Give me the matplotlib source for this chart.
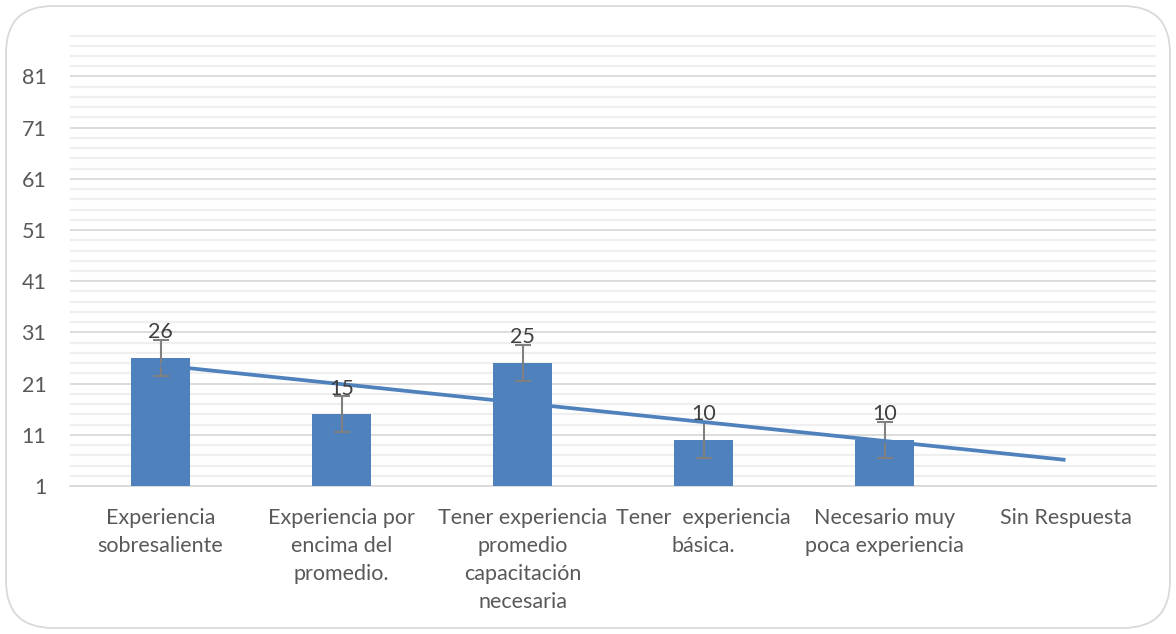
import numpy as np
import matplotlib
matplotlib.use("Agg")
import matplotlib.pyplot as plt
from matplotlib.patches import FancyBboxPatch
from matplotlib.ticker import FixedLocator

categories = [
    "Experiencia\nsobresaliente",
    "Experiencia por\nencima del\npromedio.",
    "Tener experiencia\npromedio\ncapacitación\nnecesaria",
    "Tener  experiencia\nbásica.",
    "Necesario muy\npoca experiencia",
    "Sin Respuesta",
]
values = [26, 15, 25, 10, 10, None]  # "Sin Respuesta" has no answer count
y_ticks = [1, 11, 21, 31, 41, 51, 61, 71, 81]

plt.rcParams["font.family"] = ["Lato", "DejaVu Sans"]

BAR = "#4F81BD"
TEXT = "#595959"
FS = 15.5

fig = plt.figure(figsize=(11.76, 6.34), dpi=100)
ax = fig.add_axes([70 / 1176, 1 - 486 / 634, 1086 / 1176, (486 - 34) / 634])

x = np.arange(len(categories))
present = [i for i, v in enumerate(values) if v is not None]
vals = np.array([values[i] for i in present], dtype=float)
xp = np.array(present, dtype=float)

base = 1
ax.bar(xp, vals - base, bottom=base, width=0.33, color=BAR, zorder=3)

# standard error bars
se = vals.std(ddof=1) / np.sqrt(len(vals))
ax.errorbar(xp, vals, yerr=se, fmt="none", ecolor="#808080", elinewidth=1.5,
            capsize=6, capthick=1.5, zorder=4)

# linear trend, extended one category forward
coef = np.polyfit(xp + 1, vals, 1)
xt = np.array([1, len(categories)], dtype=float)
ax.plot(xt - 1, np.polyval(coef, xt), color=BAR, lw=2.7, zorder=5,
        solid_capstyle="butt")

for xi, v in zip(xp, vals):
    ax.annotate(f"{int(v)}", (xi, v), xytext=(0, 18.5), textcoords="offset points",
                ha="center", va="center", fontsize=FS, color="#404040", zorder=6)

ax.set_xlim(-0.5, len(categories) - 0.5)
ax.set_ylim(1, 89.3)
ax.yaxis.set_major_locator(FixedLocator(y_ticks))
ax.yaxis.set_minor_locator(FixedLocator([v for v in range(3, 90, 2) if (v - 1) % 10]))
ax.grid(axis="y", which="major", color="#D9D9D9", lw=1.3, zorder=0)
ax.grid(axis="y", which="minor", color="#EFEFEF", lw=1.6, zorder=0)
ax.set_xticks(x)
ax.set_xticklabels(categories, fontsize=FS, color=TEXT, linespacing=1.52)
ax.tick_params(axis="x", length=0, pad=15.5)
ax.tick_params(axis="y", which="both", length=0, labelsize=FS, labelcolor=TEXT, pad=17)
for s in ["top", "right", "left"]:
    ax.spines[s].set_visible(False)
ax.spines["bottom"].set_color("#D9D9D9")
ax.spines["bottom"].set_linewidth(1.3)

frame = FancyBboxPatch((6 / 1176, 6 / 634), 1164 / 1176, 622 / 634,
                       boxstyle="round,pad=0,rounding_size=0.04",
                       transform=fig.transFigure, facecolor="none",
                       edgecolor="#D9D9D9", lw=1.3, mutation_aspect=1176 / 634)
fig.patches.append(frame)

fig.savefig("out.png", dpi=100)
